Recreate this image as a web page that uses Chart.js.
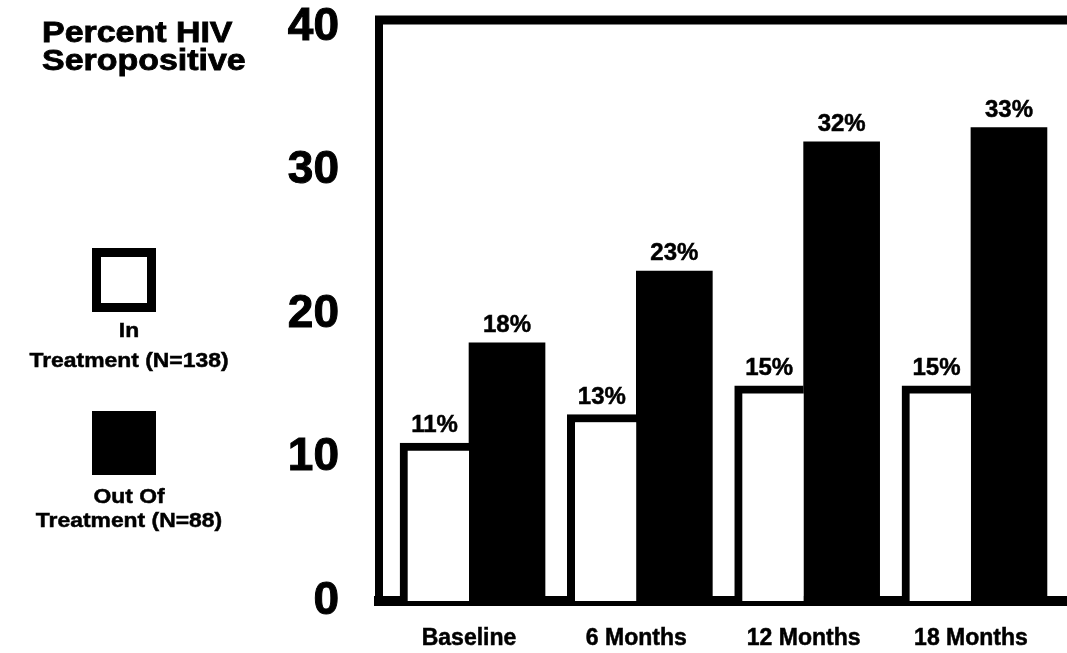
<!DOCTYPE html>
<html>
<head>
<meta charset="utf-8">
<title>Percent HIV Seropositive</title>
<script src="https://cdn.jsdelivr.net/npm/chart.js@4.4.1/dist/chart.umd.min.js"></script>
<style>
  html, body { margin: 0; padding: 0; background: #ffffff; }
  #wrap { width: 1067px; height: 653px; position: relative; }
</style>
</head>
<body>
<div id="wrap"><canvas id="chart" width="1067" height="653"></canvas></div>
<script>
// Survey waves and seropositivity rates (%) for each group
const categories = ['Baseline', '6 Months', '12 Months', '18 Months'];
const inTreatment = [11, 13, 15, 15];
const outOfTreatment = [18, 23, 32, 33];
const yTicks = [0, 10, 20, 30, 40];
const seriesLabels = ['In\nTreatment (N=138)', 'Out Of\nTreatment (N=88)'];
const titleLines = ['Percent HIV', 'Seropositive'];

const FONT = '"Liberation Sans", Arial, Helvetica, sans-serif';

// Draws heavy text stretched horizontally, matching the wide bold lettering
function wideText(ctx, text, x, y, size, sx, align, stroke) {
  ctx.save();
  ctx.font = 'bold ' + size + 'px ' + FONT;
  ctx.textAlign = align;
  ctx.textBaseline = 'alphabetic';
  ctx.translate(x, y);
  ctx.scale(sx, 1);
  ctx.lineWidth = stroke;
  ctx.strokeStyle = '#000';
  ctx.fillText(text, 0, 0);
  ctx.strokeText(text, 0, 0);
  ctx.restore();
}

// Heavy frame line along the top of the plot area
const topFrame = {
  id: 'topFrame',
  afterDraw(chart) {
    const { ctx, chartArea } = chart;
    ctx.save();
    ctx.fillStyle = '#000';
    ctx.fillRect(chartArea.left - 4, chartArea.top - 4.5, chart.width - chartArea.left + 4, 9);
    ctx.restore();
  }
};

// Percent labels above each bar
const valueLabels = {
  id: 'valueLabels',
  afterDatasetsDraw(chart) {
    const { ctx } = chart;
    ctx.save();
    ctx.fillStyle = '#000';
    ctx.strokeStyle = '#000';
    ctx.lineWidth = 0.5;
    ctx.font = 'bold 24px ' + FONT;
    ctx.textAlign = 'center';
    ctx.textBaseline = 'alphabetic';
    chart.data.datasets.forEach((ds, di) => {
      chart.getDatasetMeta(di).data.forEach((bar, i) => {
        const t = ds.data[i].y + '%';
        ctx.fillText(t, bar.x, bar.y - 11);
        ctx.strokeText(t, bar.x, bar.y - 11);
      });
    });
    ctx.restore();
  }
};

// Axis title and the stacked key on the left
const sideKey = {
  id: 'sideKey',
  afterDraw(chart) {
    const { ctx } = chart;
    ctx.save();
    ctx.fillStyle = '#000';
    wideText(ctx, titleLines[0], 42, 42, 29, 1.17, 'left', 0.8);
    wideText(ctx, titleLines[1], 42, 70, 29, 1.17, 'left', 0.8);

    const boxTops = [248, 411];
    const lineOffsets = [[89, 119], [92, 116]];
    const size = 64, cx = 124;
    chart.data.datasets.forEach((ds, i) => {
      const top = boxTops[i];
      ctx.fillStyle = '#000';
      ctx.fillRect(cx - size / 2, top, size, size);
      if (ds.backgroundColor !== '#000000') {
        const b = 9;
        ctx.fillStyle = ds.backgroundColor;
        ctx.fillRect(cx - size / 2 + b, top + b, size - 2 * b, size - 2 * b);
      }
      ctx.fillStyle = '#000';
      ds.label.split('\n').forEach((line, k) => {
        wideText(ctx, line, 129, top + lineOffsets[i][k], 21, 1.09, 'center', 0.5);
      });
    });
    ctx.restore();
  }
};

const ctx = document.getElementById('chart').getContext('2d');
new Chart(ctx, {
  type: 'bar',
  data: {
    datasets: [
      {
        label: seriesLabels[0],
        data: inTreatment.map((v, i) => ({ x: i, y: v })),
        backgroundColor: '#ffffff',
        borderColor: '#000000',
        borderWidth: { left: 8, top: 8, right: 0, bottom: 0 },
        borderSkipped: 'bottom',
        barThickness: 69
      },
      {
        label: seriesLabels[1],
        data: outOfTreatment.map((v, i) => ({ x: i, y: v })),
        backgroundColor: '#000000',
        borderWidth: 0,
        barThickness: 76
      }
    ]
  },
  options: {
    responsive: false,
    animation: false,
    layout: { padding: { left: 0, top: 20, right: 0, bottom: 0 } },
    plugins: {
      legend: { display: false },
      tooltip: { enabled: false },
      title: { display: false }
    },
    scales: {
      x: {
        type: 'linear',
        offset: false,
        min: -0.538,
        max: 3.574,
        z: 1,
        grid: { display: false, drawTicks: false, tickLength: 0 },
        border: { display: true, color: '#000', width: 10 },
        afterBuildTicks: (scale) => { scale.ticks = categories.map((c, i) => ({ value: i })); },
        afterFit: (scale) => {
          scale.height = 52;
          scale.paddingLeft = 0;
          scale.paddingRight = 0;
        },
        ticks: {
          color: '#000',
          font: { family: FONT, size: 23, weight: 'bold' },
          textStrokeColor: '#000',
          textStrokeWidth: 0.5,
          padding: 24,
          maxRotation: 0,
          autoSkip: false,
          callback: (v) => categories[v]
        }
      },
      y: {
        min: 0,
        max: 40.5,
        grid: { display: false, drawTicks: false, tickLength: 0 },
        border: { display: true, color: '#000', width: 8 },
        afterBuildTicks: (scale) => { scale.ticks = yTicks.map(v => ({ value: v })); },
        afterFit: (scale) => {
          scale.width = 379;
          scale.paddingTop = 0;
          scale.paddingBottom = 0;
        },
        ticks: {
          color: '#000',
          font: { family: FONT, size: 46, weight: 'bold' },
          textStrokeColor: '#000',
          textStrokeWidth: 1,
          padding: 40
        }
      }
    }
  },
  plugins: [topFrame, valueLabels, sideKey]
});
</script>
</body>
</html>
